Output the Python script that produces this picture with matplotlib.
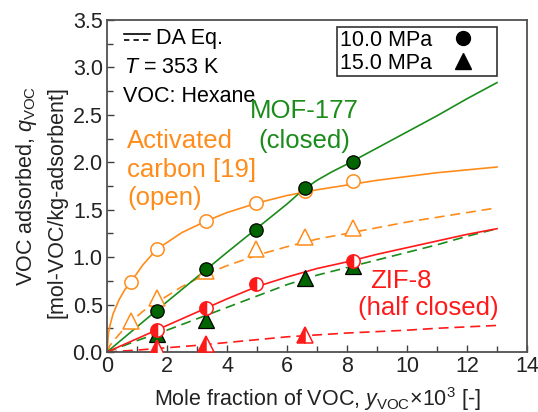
import matplotlib
matplotlib.use("Agg")
import matplotlib.pyplot as plt
from matplotlib.lines import Line2D

plt.rcParams['font.family'] = ['Liberation Sans', 'DejaVu Sans']
plt.rcParams['mathtext.fontset'] = 'custom'
plt.rcParams['mathtext.rm'] = 'Liberation Sans'
plt.rcParams['mathtext.it'] = 'Liberation Sans:italic'

# ---------------- data ----------------
# experimental points, mole fraction x10^3
ac_x10 = [0.8, 1.65, 3.3, 4.95, 6.6, 8.2]
ac_q10 = [0.74, 1.09, 1.38, 1.57, 1.70, 1.80]
ac_x15 = [0.8, 1.65, 3.3, 4.95, 6.6, 8.2]
ac_q15 = [0.33, 0.57, 0.85, 1.09, 1.21, 1.31]

mof_x10 = [1.65, 3.3, 4.95, 6.6, 8.2]
mof_q10 = [0.43, 0.88, 1.29, 1.73, 2.00]
mof_x15 = [1.65, 3.3, 6.6, 8.2]
mof_q15 = [0.19, 0.34, 0.78, 0.91]

zif_x10 = [1.65, 3.3, 4.95, 8.2]
zif_q10 = [0.23, 0.46, 0.72, 0.96]
zif_x15 = [1.65, 3.3, 6.6]
zif_q15 = [0.04, 0.08, 0.18]

# DA equation curves
ac_cx10 = [0, 0.05, 0.1, 0.2, 0.4, 0.6, 0.8, 1.2, 1.65, 2.5, 3.3, 4, 5, 6, 7, 8, 9, 10, 11, 12, 13]
ac_cq10 = [0, 0.20, 0.28, 0.40, 0.55, 0.66, 0.74, 0.92, 1.08, 1.26, 1.38, 1.47, 1.57, 1.65, 1.71, 1.76, 1.81, 1.85, 1.89, 1.92, 1.95]
ac_cx15 = [0, 0.1, 0.25, 0.5, 0.8, 1.2, 1.65, 2.5, 3.3, 4, 5, 6, 7, 8, 9, 10, 11, 12, 13]
ac_cq15 = [0, 0.07, 0.13, 0.22, 0.32, 0.43, 0.52, 0.69, 0.82, 0.91, 1.02, 1.11, 1.19, 1.25, 1.31, 1.37, 1.42, 1.47, 1.52]

mof_cx10 = [0, 1, 2, 3, 4, 5, 6, 6.5, 7, 7.5, 8, 9, 10, 11, 12, 13]
mof_cq10 = [0, 0.265, 0.53, 0.79, 1.05, 1.305, 1.56, 1.70, 1.81, 1.90, 1.98, 2.15, 2.32, 2.49, 2.67, 2.84]
mof_cx15 = [0, 1, 2, 3, 4, 5, 6, 7, 8, 9, 10, 11, 12, 13]
mof_cq15 = [0, 0.12, 0.23, 0.35, 0.47, 0.59, 0.71, 0.81, 0.89, 0.97, 1.05, 1.13, 1.22, 1.30]

zif_cx10 = [0, 1, 2, 3, 4, 5, 6, 7, 8, 9, 10, 11, 12, 13]
zif_cq10 = [0, 0.14, 0.28, 0.42, 0.56, 0.69, 0.79, 0.88, 0.95, 1.03, 1.10, 1.17, 1.24, 1.30]
zif_cx15 = [0, 1, 2, 3, 4, 5, 6, 7, 8, 9, 10, 11, 12, 13]
zif_cq15 = [0, 0.02, 0.045, 0.07, 0.10, 0.13, 0.16, 0.18, 0.20, 0.215, 0.23, 0.25, 0.265, 0.28]

x_ticks = [0, 2, 4, 6, 8, 10, 12, 14]
y_ticks = [0.0, 0.5, 1.0, 1.5, 2.0, 2.5, 3.0, 3.5]
pressure_labels = ['10.0 MPa', '15.0 MPa']

ORANGE = '#ff8c1a'
GREEN = '#1a8c1a'
GREEN_FILL = '#006400'
RED = '#ff1a1a'

fig = plt.figure(figsize=(5.38, 4.12), dpi=100)
ax = fig.add_axes([107/538, 1-352/412, 420/538, 332/412])

lw = 1.2
dash = (0, (6, 3.5))
# curves
ax.plot(ac_cx10, ac_cq10, color=ORANGE, lw=lw, zorder=2)
ax.plot(ac_cx15, ac_cq15, color=ORANGE, lw=lw, ls=dash, zorder=2)
ax.plot(mof_cx10, mof_cq10, color=GREEN, lw=lw, zorder=2)
ax.plot(mof_cx15, mof_cq15, color=GREEN, lw=lw, ls=dash, zorder=2)
ax.plot(zif_cx10, zif_cq10, color=RED, lw=lw, zorder=2)
ax.plot(zif_cx15, zif_cq15, color=RED, lw=lw, ls=dash, zorder=2)

ms_c = 9.6
ms_t = 11
# points
ax.plot(ac_x10, ac_q10, 'o', ms=ms_c, mfc='white', mec=ORANGE, mew=1.1, zorder=4)
ax.plot(ac_x15, ac_q15, '^', ms=ms_t, mfc='white', mec=ORANGE, mew=1.1, zorder=4)
ax.plot(mof_x10, mof_q10, 'o', ms=ms_c, mfc=GREEN_FILL, mec='black', mew=0.9, zorder=5)
ax.plot(mof_x15, mof_q15, '^', ms=ms_t, mfc=GREEN_FILL, mec='black', mew=0.9, zorder=5)
ax.plot(zif_x10, zif_q10, 'o', ms=ms_c, fillstyle='left', mfc=RED, mfcalt='white', mec=RED, mew=1.1, zorder=6)
ax.plot(zif_x15, zif_q15, '^', ms=ms_t, fillstyle='left', mfc=RED, mfcalt='white', mec=RED, mew=1.1, zorder=6)

ax.set_xlim(0, 14)
ax.set_ylim(0, 3.5)
ax.set_xticks(x_ticks)
ax.set_yticks(y_ticks)
ax.set_xticklabels([str(v) for v in x_ticks])
ax.set_yticklabels([f"{v:.1f}" for v in y_ticks])
ax.set_xticks([v for v in range(0, 15) if v % 2 == 1], minor=True)
ax.set_yticks([0.25, 0.75, 1.25, 1.75, 2.25, 2.75, 3.25], minor=True)
ax.tick_params(which='both', direction='in', top=False, right=False,
               color='#404040', width=1.0, labelsize=15.5, colors='#222222')
ax.tick_params(which='major', length=5, pad=3)
ax.tick_params(which='minor', length=4)
for s in ax.spines.values():
    s.set_color('#505050')
    s.set_linewidth(1.3)

ax.set_xlabel(r'Mole fraction of VOC, $y_{\mathrm{VOC}}$×10$^{3}$ [-]', fontsize=15.5,
              color='#222222', labelpad=6)
fig.text(27/538, 1-186/412, r'VOC adsorbed, $q_{\mathrm{VOC}}$', rotation=90,
         ha='center', va='center', fontsize=15.5, color='#222222')
fig.text(57/538, 1-202/412, '[mol-VOC/kg-adsorbent]', rotation=90,
         ha='center', va='center', fontsize=15.5, color='#222222')

# top-left notes
ax.add_line(Line2D([0.040, 0.102], [0.958, 0.958], transform=ax.transAxes, color='black', lw=1.2))
ax.add_line(Line2D([0.040, 0.102], [0.940, 0.940], transform=ax.transAxes, color='black', lw=1.2,
                   ls=(0, (3.2, 2.5))))
ax.text(0.117, 0.927, 'DA Eq.', transform=ax.transAxes, fontsize=15.5, va='baseline', ha='left')
ax.text(0.040, 0.839, r'$T$ = 353 K', transform=ax.transAxes, fontsize=15.5, va='baseline', ha='left')
ax.text(0.037, 0.754, 'VOC: Hexane', transform=ax.transAxes, fontsize=15.5, va='baseline', ha='left')

# material labels
fs_lab = 18.5
ax.text(0.667, 2.146, 'Activated', color=ORANGE, fontsize=fs_lab, va='baseline', ha='left')
ax.text(0.667, 1.847, 'carbon [19]', color=ORANGE, fontsize=fs_lab, va='baseline', ha='left')
ax.text(0.667, 1.549, '(open)', color=ORANGE, fontsize=fs_lab, va='baseline', ha='left')
ax.text(6.567, 2.463, 'MOF-177', color=GREEN, fontsize=fs_lab, va='baseline', ha='center')
ax.text(6.567, 2.146, '(closed)', color=GREEN, fontsize=fs_lab, va='baseline', ha='center')
ax.text(8.77, 0.671, 'ZIF-8', color=RED, fontsize=fs_lab, va='baseline', ha='left')
ax.text(8.37, 0.39, '(half closed)', color=RED, fontsize=fs_lab, va='baseline', ha='left')

# legend for pressure
handles = [Line2D([], [], ls='none', marker='o', ms=10, mfc='black', mec='black'),
           Line2D([], [], ls='none', marker='^', ms=11, mfc='black', mec='black')]
leg = ax.legend(handles, pressure_labels, loc='upper right',
                bbox_to_anchor=(0.929, 0.979), markerfirst=False, fontsize=15.5,
                frameon=True, fancybox=False, framealpha=1, edgecolor='#333333',
                borderpad=0.12, labelspacing=0.1, handletextpad=0.0, handlelength=2.9,
                borderaxespad=0)
leg.get_frame().set_linewidth(1.2)
leg.set_zorder(10)

fig.savefig('out.png', dpi=100)
